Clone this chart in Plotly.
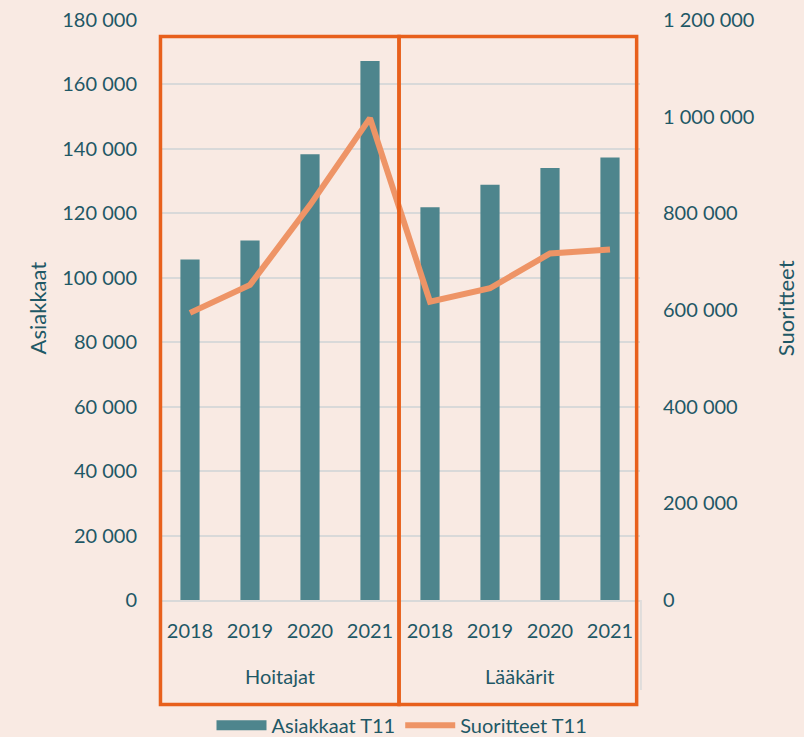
import plotly.graph_objects as go

# ---- data ----
groups = ["Hoitajat", "Hoitajat", "Hoitajat", "Hoitajat",
          "Lääkärit", "Lääkärit", "Lääkärit", "Lääkärit"]
years = ["2018", "2019", "2020", "2021", "2018", "2019", "2020", "2021"]
asiakkaat = [105700, 111600, 138300, 167300, 121900, 128900, 134100, 137300]
suoritteet = [594000, 652000, 817000, 997000, 617000, 645000, 717000, 725000]

# ---- styles ----
BG = "#F9EAE3"
TEAL = "#4E858D"
LINE = "#EE9466"
BOX = "#E8601C"
TXT = "#1F5866"
GRID = "#D9D9D9"
FONT = "Lato"

xpos = list(range(len(years)))

fig = go.Figure()
fig.add_trace(go.Bar(
    x=xpos, y=asiakkaat, name="Asiakkaat T11", legendgroup="a",
    showlegend=False,
    marker=dict(color=TEAL, line=dict(width=0)), width=0.32,
))
# legend proxy giving the wide rectangular swatch of the bar series
fig.add_trace(go.Scatter(
    x=[None], y=[None], name="Asiakkaat T11", legendgroup="a",
    mode="lines", line=dict(color=TEAL, width=14), hoverinfo="skip",
))
fig.add_trace(go.Scatter(
    x=xpos, y=suoritteet, name="Suoritteet T11", yaxis="y2",
    mode="lines", line=dict(color=LINE, width=6),
))

# group labels from data
uniq = []
for g in groups:
    if g not in uniq:
        uniq.append(g)
annotations = []
for g in uniq:
    idx = [i for i, gg in enumerate(groups) if gg == g]
    annotations.append(dict(
        x=sum(idx) / len(idx), y=-0.131, xref="x", yref="paper",
        text=g, showarrow=False, yanchor="middle",
        font=dict(family=FONT, size=20, color=TXT),
    ))

annotations += [
    dict(x=-0.256, y=0.503, xref="paper", yref="paper", text="Asiakkaat",
         textangle=-90, showarrow=False, xanchor="center", yanchor="middle",
         font=dict(family=FONT, size=22, color=TXT)),
    dict(x=1.302, y=0.503, xref="paper", yref="paper", text="Suoritteet",
         textangle=-90, showarrow=False, xanchor="center", yanchor="middle",
         font=dict(family=FONT, size=22, color=TXT)),
]

shapes = [
    dict(type="rect", xref="paper", yref="paper", x0=0.001, x1=0.498,
         y0=-0.180, y1=0.9716, line=dict(color=BOX, width=3.5), layer="above"),
    dict(type="rect", xref="paper", yref="paper", x0=0.498, x1=0.993,
         y0=-0.180, y1=0.9716, line=dict(color=BOX, width=3.5), layer="above"),
    dict(type="line", xref="paper", yref="paper", x0=1.002, x1=1.002,
         y0=0, y1=-0.155, line=dict(color=GRID, width=1.5), layer="below"),
]

fig.update_layout(
    width=804, height=737,
    margin=dict(l=160, r=164, t=20, b=137, autoexpand=False),
    paper_bgcolor=BG, plot_bgcolor=BG,
    separators=". ",
    font=dict(family=FONT, size=20, color=TXT),
    showlegend=True,
    legend=dict(orientation="h", xref="container", yref="container",
                x=0.5, xanchor="center", y=0.016, yanchor="middle",
                font=dict(family=FONT, size=20, color=TXT),
                itemwidth=50, bgcolor="rgba(0,0,0,0)", traceorder="normal"),
    xaxis=dict(
        range=[-0.5, 7.5], tickmode="array", tickvals=xpos, ticktext=years,
        showgrid=False, zeroline=False, showline=True, linecolor=GRID,
        linewidth=1.5, ticks="", ticklabelstandoff=12, automargin=False,
        tickfont=dict(family=FONT, size=20, color=TXT), fixedrange=True,
    ),
    yaxis=dict(
        range=[0, 180000], dtick=20000, tickformat=",d", automargin=False,
        showgrid=True, gridcolor=GRID, gridwidth=1.5, zeroline=False,
        showline=False, ticks="", ticklabelstandoff=22,
        tickfont=dict(family=FONT, size=20, color=TXT),
    ),
    yaxis2=dict(
        range=[0, 1200000], dtick=200000, tickformat=",d", automargin=False,
        overlaying="y", side="right", showgrid=False, zeroline=False,
        showline=False, ticks="", ticklabelstandoff=22,
        tickfont=dict(family=FONT, size=20, color=TXT),
    ),
    annotations=annotations,
    shapes=shapes,
)

fig.write_html(
    "out.html",
    config={"displayModeBar": False},
    post_script="document.body.style.margin='0';"
                "document.body.style.background='" + BG + "';",
)
